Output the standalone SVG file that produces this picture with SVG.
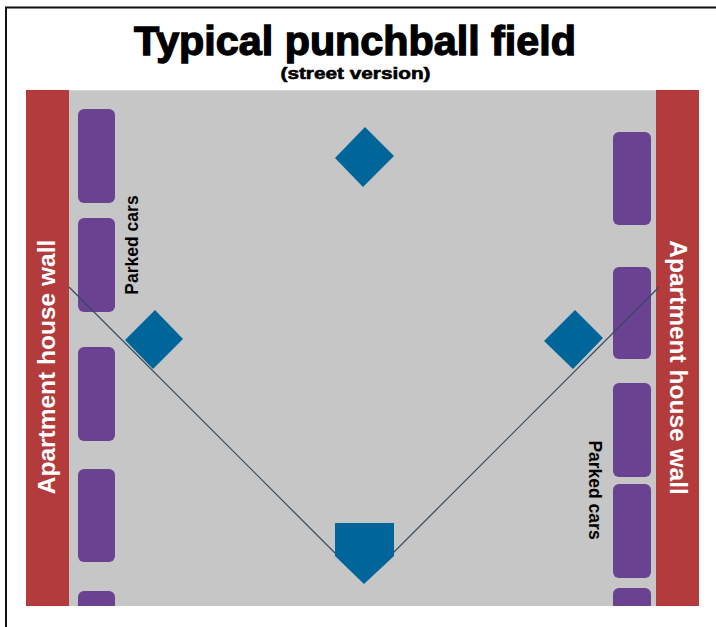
<svg xmlns="http://www.w3.org/2000/svg" width="716" height="627" viewBox="0 0 716 627">
<style>
.wall{fill:#b33b3c}
.car{fill:#6b4292}
.base{fill:#00669a}
.foul{stroke:#34495e;stroke-width:1.2;fill:none}
.walltxt{font-family:"Liberation Sans",Arial,sans-serif;font-weight:bold;font-size:24.5px;fill:#ffffff;text-anchor:middle}
.cartxt{font-family:"Liberation Sans",Arial,sans-serif;font-weight:bold;font-size:17.5px;fill:#000000;text-anchor:middle}
.title{font-family:"Liberation Sans",Arial,sans-serif;font-weight:bold;fill:#000000;stroke:#000000;text-anchor:middle}
</style>
<rect width="716" height="627" fill="#ffffff"/>
<path d="M6,627 V7.5 H716" fill="none" stroke="#111111" stroke-width="2"/>
<g id="title">
<text class="title" x="355" y="55" font-size="40" stroke-width="1.3" textLength="442" lengthAdjust="spacingAndGlyphs">Typical punchball field</text>
<text class="title" x="355.5" y="79" font-size="17" stroke-width="0.6" textLength="150" lengthAdjust="spacingAndGlyphs">(street version)</text>
</g>
<g id="field">
<rect x="69" y="90" width="587" height="516" fill="#c6c6c6"/>
<line x1="69" y1="90.5" x2="656" y2="90.5" stroke="#d6d6d6" stroke-width="1"/>
</g>
<g id="left-wall">
<rect class="wall" x="26" y="90" width="43" height="516"/>
<text class="walltxt" transform="translate(55,367) rotate(-90)">Apartment house wall</text>
</g>
<g id="right-wall">
<rect class="wall" x="656" y="90" width="43" height="516"/>
<text class="walltxt" transform="translate(670,367.5) rotate(90)">Apartment house wall</text>
</g>
<g id="left-cars">
<rect class="car" x="78" y="109" width="37" height="94" rx="6"/>
<rect class="car" x="78" y="218" width="37" height="94" rx="6"/>
<rect class="car" x="78" y="347" width="37" height="94" rx="6"/>
<rect class="car" x="78" y="469" width="37" height="93" rx="6"/>
<path class="car" d="M78,606 V597 a6,6 0 0 1 6,-6 H109 a6,6 0 0 1 6,6 V606 Z"/>
<text class="cartxt" transform="translate(138,245) rotate(-90)">Parked cars</text>
</g>
<g id="right-cars">
<rect class="car" x="613" y="132" width="38" height="93" rx="6"/>
<rect class="car" x="613" y="267" width="38" height="92" rx="6"/>
<rect class="car" x="613" y="383" width="38" height="94" rx="6"/>
<rect class="car" x="613" y="484" width="38" height="94" rx="6"/>
<path class="car" d="M613,606 V594 a6,6 0 0 1 6,-6 H645 a6,6 0 0 1 6,6 V606 Z"/>
<text class="cartxt" transform="translate(589,490) rotate(90)">Parked cars</text>
</g>
<g id="connectors">
<line class="foul" x1="69" y1="287" x2="364" y2="582"/>
<line class="foul" x1="659" y1="287" x2="364" y2="582"/>
</g>
<g id="second-base">
<polygon class="base" points="365,127 394,156 363,187 335,158"/>
</g>
<g id="third-base">
<polygon class="base" points="155,310 183,339 153,369 125,340"/>
</g>
<g id="first-base">
<polygon class="base" points="575,310 603,338 573,369 544,341"/>
</g>
<g id="home-plate">
<polygon class="base" points="335,523 394,523 394,556 364,584 335,556"/>
</g>
</svg>
